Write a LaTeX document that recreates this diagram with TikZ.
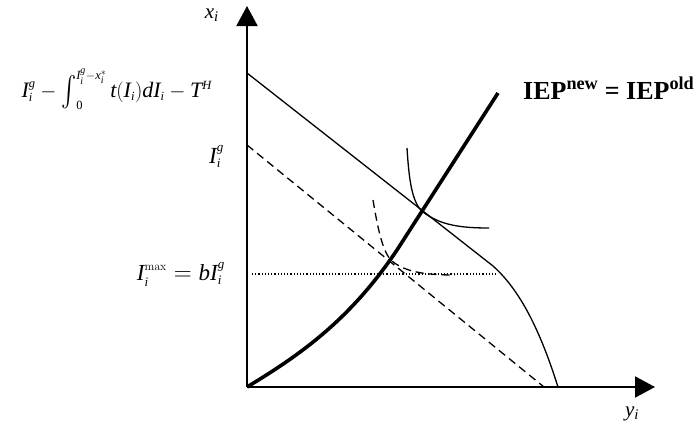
\documentclass[tikz,border=0pt]{standalone}
\usepackage{mathspec}
\usepackage{exscale}
\usepackage{graphicx}
\setmainfont{Liberation Serif}
\setmathsfont(Digits,Latin){Liberation Serif}
\DeclareMathSizes{23}{23}{13}{10}
\DeclareMathSizes{22}{22}{12.5}{10}
\usetikzlibrary{arrows.meta}
\newcommand{\velkyint}{\mathop{\vcenter{\hbox{\scalebox{1.1}[1.45]{$\int$}}}}\nolimits}

\begin{document}
\begin{tikzpicture}[x=1pt,y=-1pt,
    osa/.style={line width=2pt,-{Triangle[length=20pt,width=21pt]}},
    tenka/.style={line width=1.3pt},
    carkovana/.style={line width=1.3pt,dash pattern=on 8pt off 5pt},
    teckovana/.style={line width=1.2pt,dash pattern=on 1.2pt off 2pt},
    tlusta/.style={line width=3.6pt},
    popis/.style={font=\fontsize{23}{25}\selectfont,inner sep=0pt},
    osapopis/.style={font=\fontsize{21}{24}\selectfont,inner sep=0pt}]
        \useasboundingbox (0,0) rectangle (694,429);

        % osy
        \coordinate (O) at (247,387);
        \draw[osa] (O) -- (247,6) coordinate (ytop);
        \draw[osa] (O) -- (655,387) coordinate (xright);
        \node[osapopis,anchor=east] (xlab) at (219,15) {$x_i$};
        \node[osapopis] (ylab) at (632,414) {$y_i$};

        % rozpoctova primka (plna)
        \draw[tenka] (247,73) -- (493,266)
            .. controls (520,290) and (540,330) .. (558,387);

        % rozpoctova primka (carkovana)
        \draw[carkovana] (247,145) -- (544,387);

        % hranice I max
        \draw[teckovana] (252,274) -- (498,274);

        % krivka IEP
        \draw[tlusta] (O) .. controls (300,355) and (350,320) .. (397,250) -- (498,93);

        % indiferencni krivka horni
        \draw[tenka] (407,148) .. controls (409,180) and (412,203) .. (423,212)
            .. controls (440,225) and (460,228) .. (489,228);

        % indiferencni krivka dolni (carkovana)
        \draw[carkovana] (373,200) .. controls (378,230) and (383,253) .. (392,261)
            .. controls (405,272) and (425,275) .. (455,275);

        % popisky
        \node[popis,font=\fontsize{22}{24}\selectfont,anchor=base east] (vzorec) at (212,97)
            {$I_i^g-\velkyint_0^{I_i^g-x_i^*}t(I_i)dI_i-T^H$};
        \node[popis,anchor=base east] (Ig) at (224,163) {$I_i^g$};
        \node[popis,anchor=base east] (Imax) at (225,280)
            {$I_i^{\mathrm{max}}=bI_i^g$};
        \node[font=\fontsize{26}{28}\selectfont\bfseries,inner sep=0pt,anchor=base west]
            (iep) at (523,99) {IEP\textsuperscript{new} = IEP\textsuperscript{old}};
\end{tikzpicture}
\end{document}
